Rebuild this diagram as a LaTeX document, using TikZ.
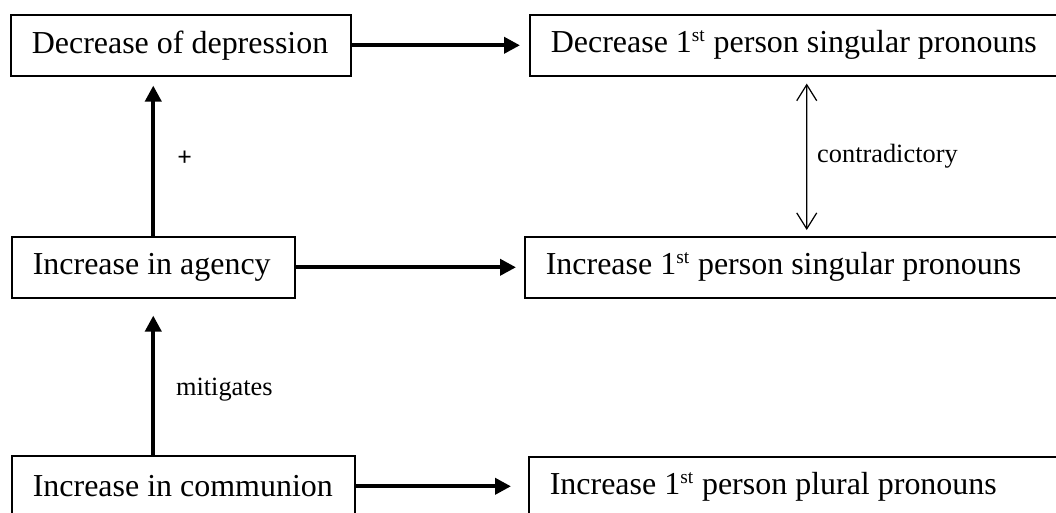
\documentclass[tikz,border=0pt]{standalone}
\usepackage{fontspec}
\setmainfont{Liberation Serif}
\newfontfamily\plusfont{Carlito}
\usetikzlibrary{arrows.meta}
\newcommand\ordsup[1]{\textsuperscript{\fontsize{11}{12}\selectfont #1}}
\tikzset{
  box/.style={draw, line width=0.9pt, minimum height=1.22cm, inner sep=0pt, inner xsep=0.42cm, anchor=north west, text width=#1, align=flush left, font=\fontsize{18.2}{21}\selectfont},
  link/.style={line width=2.2pt, -{Triangle[length=0.32cm,width=0.32cm]}},
  lbl/.style={font=\fontsize{15}{18}\selectfont}
}
\begin{document}
\begin{tikzpicture}[x=0.02cm, y=-0.02cm]
    \useasboundingbox (0, 0) rectangle (1056, 512);
    \clip (0, 0) rectangle (1056, 512);
    \node[box=5.96cm] (dep) at (10, 14) {Decrease of depression};
    \node[box=10.24cm] (decsing) at (529, 14) {Decrease 1\ordsup{st} person singular pronouns};
    \node[box=4.82cm] (agency) at (11, 236) {Increase in agency};
    \node[box=10.44cm] (incsing) at (524, 236) {Increase 1\ordsup{st} person singular pronouns};
    \node[box=6.02cm] (comm) at (11, 455) {Increase in communion};
    \node[box=10.44cm] (incplur) at (528, 456) {Increase 1\ordsup{st} person plural pronouns};
    \draw[link, shorten >=0.18cm] (dep.east) -- (decsing.west);
    \draw[link, shorten >=0.16cm] (agency.east) -- (incsing.west);
    \draw[link, shorten >=0.34cm] (comm.east) -- (comm.east -| incplur.west);
    \draw[link, shorten >=0.18cm] (agency.north) -- (agency.north |- dep.south) node[lbl, font=\plusfont\fontsize{15}{18}\selectfont, midway, right=0.34cm, yshift=-0.04cm] {+};
    \draw[link, shorten >=0.34cm] (agency.south |- comm.north) -- (agency.south) node[lbl, midway, right=0.3cm, yshift=-0.26cm] {mitigates};
    \draw[line width=0.7pt, {Straight Barb[length=0.32cm,width=0.4cm]}-{Straight Barb[length=0.32cm,width=0.4cm]}, shorten <=0.14cm, shorten >=0.12cm] (decsing.south) -- (incsing.north) node[lbl, midway, right=0.08cm] {contradictory};
\end{tikzpicture}
\end{document}
